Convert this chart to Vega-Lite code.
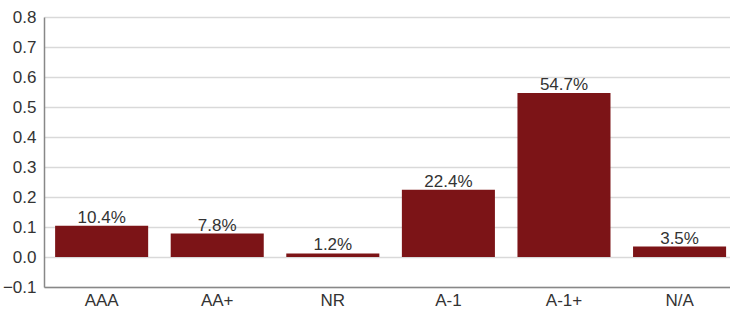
{
  "$schema": "https://vega.github.io/schema/vega-lite/v6.json",
  "width": 686,
  "height": 270,
  "autosize": {"type": "none"},
  "padding": {"left": 44, "top": 17, "right": 0, "bottom": 23},
  "background": "white",
  "config": {
    "view": {"stroke": null},
    "font": "Liberation Sans",
    "axis": {"labelFont": "Liberation Sans", "labelFontSize": 17, "labelColor": "#333333"}
  },
  "data": {"values": [
    {"rating": "AAA", "value": 0.104, "label": "10.4%"},
    {"rating": "AA+", "value": 0.078, "label": "7.8%"},
    {"rating": "NR", "value": 0.012, "label": "1.2%"},
    {"rating": "A-1", "value": 0.224, "label": "22.4%"},
    {"rating": "A-1+", "value": 0.547, "label": "54.7%"},
    {"rating": "N/A", "value": 0.035, "label": "3.5%"}
  ]},
  "encoding": {
    "x": {"field": "rating", "type": "nominal", "sort": null,
      "scale": {"paddingInner": 0.195, "paddingOuter": 0.065, "align": 0.74},
      "axis": {"title": null, "labelAngle": 0, "ticks": false, "domainColor": "#888888", "domainWidth": 1.5, "labelPadding": 5, "grid": false}},
    "y": {"field": "value", "type": "quantitative",
      "scale": {"domain": [-0.1, 0.8], "nice": false, "zero": false},
      "axis": {"title": null, "values": [-0.1, 0, 0.1, 0.2, 0.3, 0.4, 0.5, 0.6, 0.7, 0.8], "format": ".1f", "ticks": false, "labelPadding": 8, "domainColor": "#888888", "domainWidth": 1.5, "gridColor": "#d9d9d9", "gridWidth": 1.5}}
  },
  "layer": [
    {"mark": {"type": "bar", "color": "#7c1417"}, "encoding": {"y2": {"datum": 0}}},
    {"mark": {"type": "text", "baseline": "bottom", "dy": 1, "fontSize": 17, "color": "#333333"},
     "encoding": {"text": {"field": "label"}}}
  ]
}
